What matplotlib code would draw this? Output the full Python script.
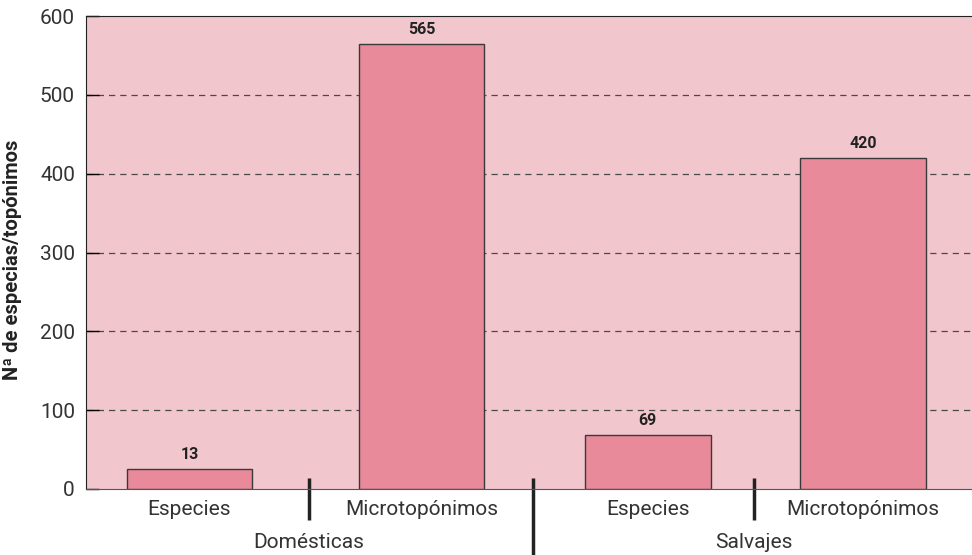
import matplotlib
matplotlib.use("Agg")
import matplotlib.pyplot as plt

# datos
groups = ["Domésticas", "Salvajes"]
categories = ["Especies", "Microtopónimos", "Especies", "Microtopónimos"]
bar_heights = [25, 565, 69, 420]
value_labels = ["13", "565", "69", "420"]
y_ticks = [0, 100, 200, 300, 400, 500, 600]

# posiciones en fracción del eje x (layout)
bar_pos = [0.1168, 0.3787, 0.634, 0.877]
bar_width = 0.142
short_seps = [0.2517, 0.754]
long_sep = 0.5045
group_pos = [0.2517, 0.754]

plt.rcParams["font.family"] = ["Roboto", "DejaVu Sans"]
TXT = "#333333"

W, H = 972, 555
fig = plt.figure(figsize=(W / 100, H / 100), dpi=100)
ax = fig.add_axes([86 / W, (H - 489) / H, (W - 86) / W, (489 - 16) / H])
ax.set_facecolor("#f1c6cd")

ax.bar(bar_pos, bar_heights, width=bar_width, color="#e88a9a",
       edgecolor="#3a3a3a", linewidth=1.0, zorder=3)
for x, h, lab in zip(bar_pos, bar_heights, value_labels):
    ax.annotate(lab, (x, h), xytext=(0, 5), textcoords="offset points",
                ha="center", va="bottom", fontsize=11.5, fontweight="bold",
                color="#222222")

ax.set_xlim(0, 1)
ax.set_ylim(0, 600)
ax.set_yticks(y_ticks)
ax.set_yticklabels([str(t) for t in y_ticks], fontsize=15, color=TXT)
ax.tick_params(axis="y", direction="in", length=9, width=1, pad=8)
for t in y_ticks[1:-1]:
    ax.axhline(t, color="#4a4a4a", linestyle=(0, (5, 4)), linewidth=0.9, zorder=1)

ax.set_xticks(bar_pos)
ax.set_xticklabels(categories, fontsize=15, color=TXT)
ax.tick_params(axis="x", length=0, pad=8)

ax.spines["right"].set_visible(False)
ax.spines["top"].set_color("#222222")
ax.spines["left"].set_color("#222222")
ax.spines["bottom"].set_color("#555555")

ax.set_ylabel("Nª de especias/topónimos", fontsize=14.5, fontweight="bold",
              color="#222222")
ax.yaxis.set_label_coords(-0.072, 0.484)

tr = ax.get_xaxis_transform()
for x in short_seps:
    ax.plot([x, x], [0.023, -0.0655], transform=tr, color="#222222",
            linewidth=2.5, clip_on=False, solid_capstyle="butt")
ax.plot([long_sep, long_sep], [0.023, -0.16], transform=tr, color="#222222",
        linewidth=2.5, clip_on=False, solid_capstyle="butt")
for x, g in zip(group_pos, groups):
    ax.text(x, -0.114, g, transform=tr, ha="center", va="center",
            fontsize=15, color=TXT)

fig.savefig("out.png", dpi=100)
